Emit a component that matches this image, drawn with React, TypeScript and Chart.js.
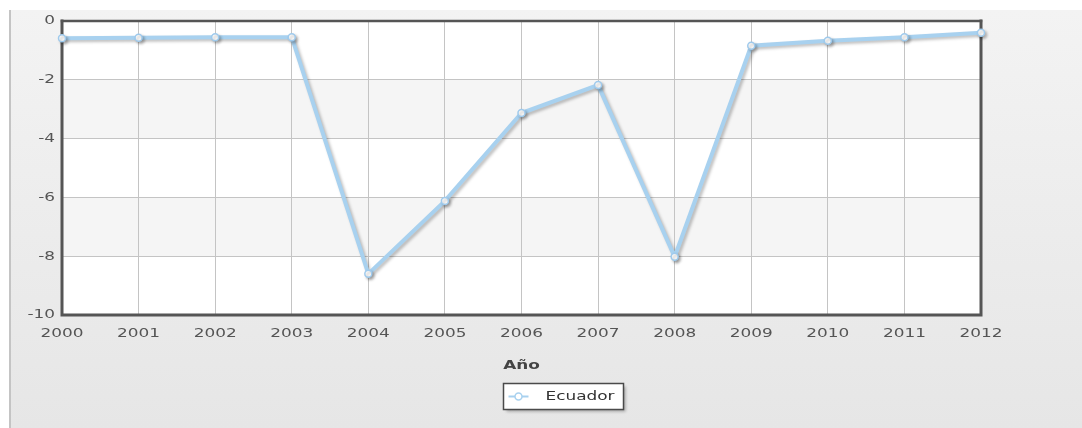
import React, { useEffect, useRef } from 'react';
import { Chart, registerables } from 'chart.js';

Chart.register(...registerables);

// ---- data ----
const years: string[] = ['2000', '2001', '2002', '2003', '2004', '2005', '2006', '2007', '2008', '2009', '2010', '2011', '2012'];
const ecuador: number[] = [-0.59, -0.57, -0.55, -0.55, -8.6, -6.12, -3.13, -2.18, -8.02, -0.84, -0.67, -0.55, -0.4];
const seriesName = 'Ecuador';
const xAxisTitle = 'Año';
const yMin = -10;
const yMax = 0;
const yStep = 2;

const FONT = '"DejaVu Sans", Verdana, sans-serif';
const LINE_COLOR = '#a8d1ef';
const TEXT_SX = 1.3; // horizontal text stretch seen in the reference

export default function App() {
  const ref = useRef<HTMLCanvasElement | null>(null);

  useEffect(() => {
    document.body.style.margin = '0';
    const canvas = ref.current;
    if (!canvas) return;

    const chromePlugin = {
      id: 'chrome',
      beforeInit(chart: any) {
        const ctx = chart.ctx;
        if (ctx.__stretched) return;
        ctx.__stretched = true;
        const origFill = ctx.fillText.bind(ctx);
        const origMeasure = ctx.measureText.bind(ctx);
        ctx.fillText = (text: string, x: number, y: number) => {
          ctx.save();
          ctx.translate(x, y);
          ctx.scale(TEXT_SX, 1);
          origFill(text, 0, 0);
          ctx.restore();
        };
        ctx.measureText = (text: string) => {
          const m = origMeasure(text);
          return {
            width: m.width * TEXT_SX,
            actualBoundingBoxAscent: m.actualBoundingBoxAscent,
            actualBoundingBoxDescent: m.actualBoundingBoxDescent,
            actualBoundingBoxLeft: m.actualBoundingBoxLeft * TEXT_SX,
            actualBoundingBoxRight: m.actualBoundingBoxRight * TEXT_SX,
            fontBoundingBoxAscent: m.fontBoundingBoxAscent,
            fontBoundingBoxDescent: m.fontBoundingBoxDescent,
          };
        };
      },
      beforeDraw(chart: any) {
        const { ctx, chartArea: a, scales } = chart;
        const y = scales.y;
        ctx.save();
        let idx = 0;
        for (let v = yMax; v > yMin; v -= yStep) {
          const top = y.getPixelForValue(v);
          const bottom = y.getPixelForValue(v - yStep);
          ctx.fillStyle = idx % 2 === 0 ? '#ffffff' : '#f5f5f5';
          ctx.fillRect(a.left, top, a.right - a.left, bottom - top);
          idx++;
        }
        ctx.restore();
      },
      beforeDatasetsDraw(chart: any) {
        const { ctx, chartArea: a } = chart;
        ctx.save();
        ctx.strokeStyle = '#555555';
        ctx.lineCap = 'square';
        ctx.lineWidth = 2.5;
        ctx.beginPath();
        ctx.moveTo(a.left, a.top);
        ctx.lineTo(a.right, a.top);
        ctx.stroke();
        ctx.lineWidth = 3;
        ctx.beginPath();
        ctx.moveTo(a.left, a.top);
        ctx.lineTo(a.left, a.bottom);
        ctx.lineTo(a.right, a.bottom);
        ctx.lineTo(a.right, a.top);
        ctx.stroke();
        ctx.restore();
      },
      beforeDatasetDraw(chart: any) {
        const ctx = chart.ctx;
        ctx.save();
        ctx.shadowColor = 'rgba(0,0,0,0.25)';
        ctx.shadowOffsetX = 2;
        ctx.shadowOffsetY = 2;
        ctx.shadowBlur = 3;
      },
      afterDatasetDraw(chart: any) {
        chart.ctx.restore();
      },
      afterDraw(chart: any) {
        const ctx = chart.ctx;
        const ds = chart.data.datasets[0];
        const cx = chart.width * 0.52;
        const w = 120;
        const h = 26;
        const x0 = Math.round(cx - w / 2) + 0.5;
        const y0 = 383.5;
        ctx.save();
        ctx.shadowColor = 'rgba(0,0,0,0.3)';
        ctx.shadowOffsetX = 2;
        ctx.shadowOffsetY = 2;
        ctx.shadowBlur = 3;
        ctx.fillStyle = '#ffffff';
        ctx.fillRect(x0, y0, w, h);
        ctx.shadowColor = 'transparent';
        ctx.strokeStyle = '#4a4a4a';
        ctx.lineWidth = 1.5;
        ctx.strokeRect(x0, y0, w, h);
        const my = y0 + h / 2;
        ctx.strokeStyle = LINE_COLOR;
        ctx.lineWidth = 2;
        ctx.beginPath();
        ctx.moveTo(x0 + 5, my);
        ctx.lineTo(x0 + 25, my);
        ctx.stroke();
        ctx.beginPath();
        ctx.arc(x0 + 15, my, 3.5, 0, Math.PI * 2);
        ctx.fillStyle = '#ffffff';
        ctx.fill();
        ctx.lineWidth = 1.5;
        ctx.stroke();
        ctx.font = `13px ${FONT}`;
        ctx.fillStyle = '#333333';
        ctx.textBaseline = 'middle';
        ctx.textAlign = 'left';
        ctx.fillText(ds.label, x0 + 42, my + 0.5);
        ctx.restore();
      },
    };

    const chart = new Chart(canvas, {
      type: 'line',
      data: {
        labels: years,
        datasets: [
          {
            label: seriesName,
            data: ecuador,
            borderColor: LINE_COLOR,
            borderWidth: 4,
            pointRadius: 3.5,
            pointBorderWidth: 1.5,
            pointBackgroundColor: '#ffffff',
            pointBorderColor: '#9fcaec',
            tension: 0,
            clip: false as any,
          },
        ],
      },
      options: {
        responsive: false,
        animation: false,
        devicePixelRatio: 1,
        layout: { padding: { left: 0, top: 21, right: 101, bottom: 48.5 } },
        plugins: {
          legend: { display: false },
          tooltip: { enabled: false },
        },
        scales: {
          x: {
            type: 'category',
            offset: false,
            grid: { color: '#c4c4c4', lineWidth: 1, drawTicks: false },
            border: { display: false },
            ticks: {
              autoSkip: false,
              maxRotation: 0,
              padding: 11,
              color: '#555555',
              font: { family: FONT, size: 13 },
            },
            title: {
              display: true,
              text: xAxisTitle,
              color: '#444444',
              font: { family: FONT, size: 13, weight: 'bold' },
              padding: { top: 0, bottom: 6 },
            },
            afterFit(scale: any) {
              scale.height = 64.5;
            },
          },
          y: {
            min: yMin,
            max: yMax,
            grid: { color: '#c4c4c4', lineWidth: 1, drawTicks: false },
            border: { display: false },
            ticks: {
              stepSize: yStep,
              padding: 7,
              color: '#555555',
              font: { family: FONT, size: 13 },
            },
            afterFit(scale: any) {
              scale.width = 62;
            },
          },
        },
      },
      plugins: [chromePlugin],
    } as any);

    return () => {
      chart.destroy();
    };
  }, []);

  return (
    <div style={{ position: 'absolute', left: 0, top: 0, width: 1082, height: 428, background: '#ffffff', overflow: 'hidden' }}>
      <div
        style={{
          position: 'absolute',
          left: 9,
          top: 10,
          right: 0,
          bottom: 0,
          borderLeft: '2px solid #c4c4c4',
          background: 'linear-gradient(to bottom, #f3f3f3 0%, #e6e6e6 100%)',
        }}
      />
      <canvas ref={ref} width={1082} height={428} style={{ position: 'absolute', left: 0, top: 0 }} />
    </div>
  );
}
